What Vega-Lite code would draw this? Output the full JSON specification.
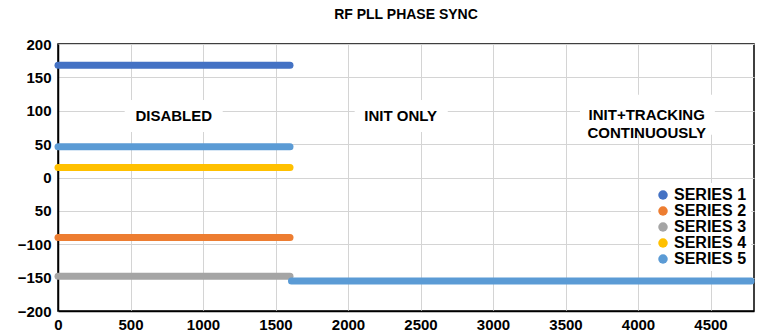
{
  "$schema": "https://vega.github.io/schema/vega-lite/v6.json",
  "width": 696,
  "height": 267,
  "autosize": {"type": "none"},
  "padding": {"left": 58, "top": 44, "right": 16, "bottom": 22},
  "background": "white",
  "title": {"text": "RF PLL PHASE SYNC", "fontSize": 14, "font": "Liberation Sans", "fontWeight": "bold", "color": "#000000", "offset": 15, "anchor": "middle"},
  "config": {
    "view": {"stroke": "#000000", "strokeWidth": 1.5},
    "font": "Liberation Sans",
    "axis": {"grid": true, "gridColor": "#d4d4d4", "ticks": false, "domainColor": "#000000", "domainWidth": 1.5, "labelFont": "Liberation Sans", "labelFontWeight": "bold", "labelFontSize": 15, "labelColor": "#000000", "labelOverlap": false, "labelFlush": false, "title": null},
    "axisX": {"labelPadding": 6, "tickCount": 10, "labelExpr": "replace(datum.label, ',', '')"},
    "axisY": {"labelPadding": 7, "tickCount": 8, "labelExpr": "datum.value == -50 ? '50' : datum.label"}
  },
  "datasets": {
    "lines": [
      {"series": "SERIES 1", "seg": "a", "x": 0, "y": 168},
      {"series": "SERIES 1", "seg": "a", "x": 1600, "y": 168},
      {"series": "SERIES 2", "seg": "a", "x": 0, "y": -90},
      {"series": "SERIES 2", "seg": "a", "x": 1600, "y": -90},
      {"series": "SERIES 3", "seg": "a", "x": 0, "y": -148},
      {"series": "SERIES 3", "seg": "a", "x": 1600, "y": -148},
      {"series": "SERIES 4", "seg": "a", "x": 0, "y": 15},
      {"series": "SERIES 4", "seg": "a", "x": 1600, "y": 15},
      {"series": "SERIES 5", "seg": "a", "x": 0, "y": 46},
      {"series": "SERIES 5", "seg": "a", "x": 1600, "y": 46},
      {"series": "SERIES 5", "seg": "b", "x": 1610, "y": -155},
      {"series": "SERIES 5", "seg": "b", "x": 4780, "y": -155}
    ],
    "notes": [
      {"label": "DISABLED", "x": 798, "y": 92, "x1": 460, "x2": 1136, "y1": 68, "y2": 116},
      {"label": "INIT ONLY", "x": 2363, "y": 92, "x1": 2046, "x2": 2688, "y1": 68, "y2": 116},
      {"label": "INIT+TRACKING\nCONTINUOUSLY", "x": 4060, "y": 93, "x1": 3600, "x2": 4530, "y1": 64, "y2": 124}
    ]
  },
  "layer": [
    {
      "data": {"name": "notes"},
      "mark": {"type": "rect", "fill": "white", "stroke": null},
      "encoding": {
        "x": {"field": "x1", "type": "quantitative", "scale": {"domain": [0, 4800], "nice": false, "zero": false}},
        "x2": {"field": "x2"},
        "y": {"field": "y1", "type": "quantitative", "scale": {"domain": [-200, 200], "nice": false, "zero": false}},
        "y2": {"field": "y2"}
      }
    },
    {
      "data": {"name": "notes"},
      "mark": {"type": "text", "font": "Liberation Sans", "fontWeight": "bold", "fontSize": 15, "color": "#000000", "lineBreak": "\n", "lineHeight": 18, "align": "center", "baseline": "middle"},
      "encoding": {
        "x": {"field": "x", "type": "quantitative"},
        "y": {"field": "y", "type": "quantitative"},
        "text": {"field": "label"}
      }
    },
    {
      "data": {"name": "lines"},
      "mark": {"type": "line", "strokeWidth": 7, "strokeCap": "round"},
      "encoding": {
        "x": {"field": "x", "type": "quantitative"},
        "y": {"field": "y", "type": "quantitative"},
        "detail": {"field": "seg"},
        "color": {"field": "series", "type": "nominal",
                  "scale": {"domain": ["SERIES 1", "SERIES 2", "SERIES 3", "SERIES 4", "SERIES 5"], "range": ["#4472C4", "#ED7D31", "#A5A5A5", "#FFC000", "#5B9BD5"]},
                  "legend": {"title": null, "orient": "none", "legendX": 593, "legendY": 139, "fillColor": "white", "padding": 4,
                             "symbolType": "circle", "symbolSize": 90, "symbolStrokeWidth": 0,
                             "labelFont": "Liberation Sans", "labelFontWeight": "bold", "labelFontSize": 16, "labelColor": "#000000",
                             "labelOffset": 3, "rowPadding": 0,
                             "encode": {"symbols": {"update": {"fill": {"scale": "color", "field": "value"}, "fillOpacity": {"value": 1}, "strokeWidth": {"value": 0}}}}}}
      }
    }
  ]
}
